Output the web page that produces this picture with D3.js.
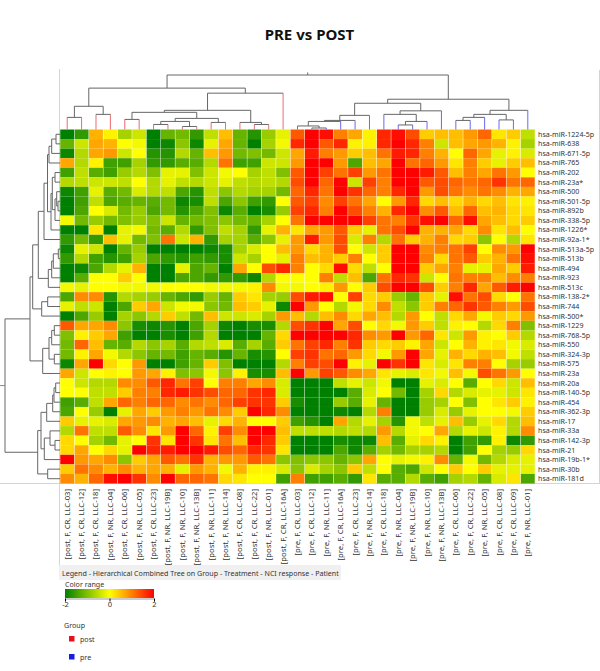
<!DOCTYPE html>
<html>
<head>
<meta charset="utf-8">
<script src="https://cdn.jsdelivr.net/npm/d3@7"></script>
<style>
  html, body { margin: 0; padding: 0; background: #fff; }
  svg { display: block; }
  text { font-family: "Noto Sans", sans-serif; fill: #333; }
</style>
</head>
<body>
<div id="viz"></div>
<script>
var mirnas = ["hsa-miR-1224-5p","hsa-miR-638","hsa-miR-671-5p","hsa-miR-765","hsa-miR-202","hsa-miR-23a*","hsa-miR-500","hsa-miR-501-5p","hsa-miR-892b","hsa-miR-338-5p","hsa-miR-1226*","hsa-miR-92a-1*","hsa-miR-513a-5p","hsa-miR-513b","hsa-miR-494","hsa-miR-923","hsa-miR-513c","hsa-miR-138-2*","hsa-miR-744","hsa-miR-500*","hsa-miR-1229","hsa-miR-768-5p","hsa-miR-550","hsa-miR-324-3p","hsa-miR-575","hsa-miR-23a","hsa-miR-20a","hsa-miR-140-5p","hsa-miR-454","hsa-miR-362-3p","hsa-miR-17","hsa-miR-33a","hsa-miR-142-3p","hsa-miR-21","hsa-miR-19b-1*","hsa-miR-30b","hsa-miR-181d"];

var samples = ["[post, F, CR, LLC-03]","[post, F, CR, LLC-12]","[post, F, CR, LLC-18]","[post, F, NR, LLC-04]","[post, F, CR, LLC-06]","[post, F, NR, LLC-05]","[post, F, CR, LLC-23]","[post, F, NR, LLC-19B]","[post, F, NR, LLC-10]","[post, F, NR, LLC-13B]","[post, F, NR, LLC-11]","[post, F, NR, LLC-14]","[post, F, CR, LLC-08]","[post, F, CR, LLC-22]","[post, F, NR, LLC-01]","[post, F, CR, LLC-16A]","[pre, F, CR, LLC-03]","[pre, F, CR, LLC-12]","[pre, F, NR, LLC-11]","[pre, F, CR, LLC-16A]","[pre, F, CR, LLC-23]","[pre, F, NR, LLC-14]","[pre, F, CR, LLC-18]","[pre, F, NR, LLC-04]","[pre, F, NR, LLC-19B]","[pre, F, NR, LLC-10]","[pre, F, NR, LLC-13B]","[pre, F, CR, LLC-06]","[pre, F, CR, LLC-22]","[pre, F, NR, LLC-05]","[pre, F, CR, LLC-08]","[pre, F, CR, LLC-09]","[pre, F, NR, LLC-01]"];

// one row per miRNA, log ratios
var postValues = [
[-2,-1.6,.6,.1,-.7,-.4,-2,-1.2,-1.1,-1.6,-.5,.5,-1.2,-1.7,-.8,-.2],
[-1.2,-.4,.7,.6,0,-.1,-2,-1.9,-.9,-1.9,-.2,.7,-1.2,-2,-.7,-.1],
[-1.9,-.6,.7,.8,-.4,0,-1.7,-1.7,-.6,-1.2,.5,.8,-1.1,-1,-1.1,-.4],
[.7,-.6,.1,-1.5,-1.5,-.7,-1.6,-1.6,-1.3,-1.3,-.6,1.1,-1.5,-1.5,-.4,-.4],
[-1.5,-.5,-1.3,-1.5,-.8,-.6,-1,-.2,-.2,-1,-.4,-.1,0,-.7,-.5,-1],
[-.6,-.5,-.4,-.4,-.5,0,-.6,-.2,-.5,-.6,-.4,-.2,-.5,-.6,-.5,-.6],
[-1.9,-1.5,-.2,-1.3,-1.1,-.3,-.6,-.5,-1.4,-1.7,-.5,-.9,-.6,-.7,-.7,-1.1],
[-2,-1.5,-.5,-1.4,-1.3,-1.2,-1.3,-1.1,-1.9,-1.8,-.5,-1.4,-.9,-1.5,-1.6,0],
[-2,-1.4,0,-.3,-1.1,-.8,-1.4,-1.1,-1.7,-1.4,-1,-1.9,-1.3,-2,-1.8,-.8],
[-.1,-1.1,-.8,-1.1,-1,-.8,-1,-.4,-1.2,-1.1,-1,-.9,-1.1,-1.2,-.7,0],
[-2,-2,.2,-2,-.2,-.1,-1.1,-1.3,-.6,-1.6,-1,-.5,-.7,-1.6,-.2,.6],
[-1.6,-1.1,-1.6,.5,-.2,-1.1,-1,1.1,-.4,.6,-1.6,-.7,-.7,-1.3,-.9,-.2],
[-1.9,-.2,-.4,-2,-1.2,-.8,-2,-2,-2,-2,-1.9,-1.8,-.7,-.3,0,.5],
[-1.6,-.6,-1.5,-1.7,-1.5,-.7,-1.4,-1.6,-1.7,-1.5,-1.6,-1.8,-.4,-.7,0,-.2],
[-2,-1.9,-1.4,-.6,-.2,.6,-2,-2,-.2,-1.4,-1.2,-2,.7,0,1.4,1.7],
[-2,-1.3,0,0,.4,0,-2,-2,-1.4,-1.4,-1.6,-1.6,-1.6,-1.9,-.6,0],
[-.1,-.2,0,0,-.1,-.1,-.1,0,0,0,-.1,-.1,-.1,.1,.9,-.1],
[-1.4,.9,.9,-1.7,-.6,-.7,-.8,-1.2,-1.4,-1.6,-.8,-1.2,.4,.2,-.7,-.8],
[-.2,-.5,-.4,-2,-1.4,.4,.7,-.4,-.1,-.1,-.9,-1.1,.5,.4,-.2,-1.9],
[-2,-1.4,-.8,-2,-.7,-.9,-.6,.4,-.5,-1.1,.5,-.4,-.4,-.3,-.7,.8],
[1.3,.7,.7,.9,-.9,-1.8,-1.9,-1.7,-2,-1.4,-.7,-1.9,-2,-1.8,-1.8,-.6],
[-1,.1,.4,.7,-1.5,-2,-2,-1.8,-2,-1.5,-.6,-2,-2,-2,-1.2,.3],
[-1.1,1.2,.5,-1.2,-1.3,-.6,-.9,-.7,-1.3,-.6,-.5,-.3,-1.3,-.7,-1.3,.4],
[-1.1,.1,.7,-.1,-.6,-.9,-1.2,-1.1,-1.5,-1.2,-1.3,-1.7,-1.2,-1.8,-1.7,0],
[-1.9,.7,2,.3,0,.8,-2,-2,-1.5,-1.2,.4,-1,-2,-2,-2,-.6],
[.7,-.4,0,.1,0,.8,.7,.1,-1,-.9,-.1,-.9,.1,-1.8,-1.8,.5],
[0,-.4,-.6,-.6,.9,.9,1.3,1.7,1.1,1.5,0,1,1,.7,.9,-.3],
[0,0,-.5,-.5,.4,1,1,1.7,1.8,1.6,1.4,1.2,1.2,1.6,1.7,-.3],
[-1.5,-1.3,-.5,.7,1.2,1,1.2,1.2,.9,1.1,.9,1.2,1.5,1.6,1.6,.4],
[-1.4,0,-.8,-2,-.2,.7,.4,.8,1,.8,1.1,.9,.4,2,1.7,.9],
[.4,-.2,-.2,-.3,.7,.8,.9,.6,.7,.5,-.2,.3,.6,0,0,.4],
[-.6,1.1,-.5,-.5,1.3,.9,.2,.8,2,1.2,.1,1.5,.9,2,2,.5],
[.3,0,-.7,-1.1,-.2,0,1.6,.2,2,1.6,.2,1.1,.5,2,1.7,.4],
[.3,.7,0,.3,-.2,2,1.7,1.8,2,2,1.8,1.4,1.2,1.7,1.6,.2],
[2,.8,.7,.9,-.9,.4,.7,1.3,1.1,1.6,.6,.8,.8,1.3,1.1,-.9],
[.4,1.1,.9,.6,.9,.6,.7,.6,-.2,.8,.6,-.1,.6,.1,.1,-.3],
[.9,.6,1.2,1.9,2,1.6,.9,2,1.2,1.2,1.1,.3,.2,0,0,-1.5]
];

var preValues = [
[1.3,2,1.9,1,.7,.1,1.7,1.9,1.4,.4,.5,.5,.8,1.2,.2,.4,-.5],
[1.7,2,1.3,1.7,.1,.1,1.7,2,1.7,1,-.4,.5,.7,.8,.6,.1,-.7],
[.7,1.8,1,.8,.4,.5,1.1,1.8,1.7,1,.6,0,1.2,.7,-.2,.1,-.3],
[.8,2,2,.8,-1.4,.5,.7,2,1.1,1.2,.8,.2,1,.4,-.2,.4,.5],
[1.3,2,1.5,1.1,1.5,.8,1.1,2,2,1.8,1.3,.5,1,.7,1.1,.8,0],
[1.4,2,1.2,2,-.4,1.5,1,2,2,1.3,1.4,1.2,1.1,1.2,1.6,1.1,1.2],
[1.2,1.7,1.1,2,1.6,1.2,1,1.7,2,.8,1.4,1.1,.9,1.1,.9,.6,.7],
[1.3,1.5,.9,1.5,1.1,.7,0,.8,1.7,.3,.5,.3,.6,.3,.5,.2,.1],
[1.5,1.7,1,2,1.4,1,.6,1.7,2,.9,1.3,.5,1.2,.5,.6,.3,.2],
[1.1,2,2,2,2,1.5,1.1,1,1.6,1.9,2,1.2,1.9,.7,.5,.3,.4],
[.2,.7,.8,1.3,.4,-.2,1.1,1.4,2,.6,.6,.7,.3,.9,.2,.5,0],
[.8,1.8,.8,1.4,-.3,1,-.6,1.1,.4,.6,1,.3,.4,-.9,0,-.6,.2],
[.8,.3,.6,1.4,0,-.4,.4,2,2,.9,1,1.1,1.5,0,.9,.8,2],
[1,.5,.6,.4,1,0,.4,2,2,1,.3,1.1,1.3,.4,.6,1.1,1.9],
[1,0,.3,1.9,.3,-.5,0,2,2,.4,.7,1,-.2,-.2,.7,.4,1.8],
[0,0,1,-.5,.5,-1.4,1.1,1.7,1.6,-.4,0,1.1,1,1,.5,.9,1],
[-.1,0,.1,.8,0,.4,1.4,2,2,1.4,.4,1,1.7,.7,1.3,1.8,2],
[1.4,1.8,1.9,0,1.5,.3,.4,-.8,-1.2,.4,-.2,1.9,1.1,1.4,.3,0,1.1],
[2,.8,0,-.6,-.1,.3,.9,-.5,-.9,.4,1,1.2,1.6,1.3,1,.8,1.4],
[.5,-.6,.5,.9,.3,.7,.5,-.6,.8,0,-.5,.3,.7,-.1,.4,.3,.8],
[1.4,1.6,2,.7,1.4,0,.3,-.1,.8,.4,-.5,.1,0,-.6,.3,1,-1],
[2,2,2,2,1.7,.9,.8,2,.8,1.2,.2,-.4,.8,.1,0,.4,-.6],
[1.1,1.5,1.7,1,1.6,.4,.3,.4,.1,.7,-.4,0,.6,.1,.2,-.1,-.3],
[1.5,1.6,1.1,1.2,.8,.3,-.1,.8,2,.7,-.2,.6,.3,.6,.5,-.1,-.5],
[1,1.5,1.4,2,.1,-.2,2,1.6,2,.2,-.3,.2,1,1,0,-.7,-.8],
[2,.8,1.5,1.3,.9,.7,.2,-.2,-.3,.2,-.1,.5,-.1,1.4,1.1,.8,0],
[-2,-2,-2,-.5,-.2,-.4,-.1,-2,-2,-.2,-.3,0,-1.3,0,.3,-.4,.5],
[-2,-2,-2,-2,-1.3,-.3,0,-1.1,-2,-.7,.3,-.6,-.3,-.2,-.2,-.4,.2],
[-1.8,-2,-2,-.8,-1.3,-.2,-1.2,-2,-2,-.8,-.7,0,-1,0,.2,.4,.1],
[-2,-2,-2,-1.9,-2,-.6,1,-2,-2,-.8,-.3,-.8,-.2,0,0,-.1,.4],
[-1.5,-1.7,-2,.7,-.6,-.2,-.7,-1.7,-.1,-.5,-.2,.5,-.8,-.2,.3,-.6,.5],
[-.5,-.5,-.5,-.6,-.5,-.6,.8,-.6,-.1,0,.7,-.6,-.2,-.4,.1,-.6,.9],
[-2,-2,-2,-1.8,-1.9,-1.9,.5,-1.3,-.2,.3,.1,-2,-1.5,-1.6,.1,-1.9,-1.6],
[-2,-2,-2,-1.4,-1.9,-1.3,-.7,-1.1,-.7,-.7,-.6,-2,-1.5,0,-.7,-.8,.3],
[-1,-.9,-.9,-1.2,-.9,.7,0,-.2,-.1,.1,.9,-1.2,-.1,-1.1,-.6,-.3,-.2],
[-.9,-.3,-.7,-.9,.4,-.5,0,-1.3,-1.4,-.4,0,.4,0,.4,-.2,-.2,-.2],
[1,-1.5,-1.5,-1.3,-1.6,.2,-1.3,-1.3,-.6,-1.3,-1.5,-.7,-.6,-1.2,-.3,.2,-1.4]
];

// trees: [merge height, child, child], a number is a leaf index
var postTree = [41,
  [23, [12,0,1], [15,2,3]],
  [36,
    [19,
      [17, [10,4,5], [11, [8,[5,6,7],[3,8,9]], [7,10,11]]],
      [7,12,[5,13,14]]],
    15]];

var preTree = [30,
  [26,
    [14, [9,[8,[3.5,16,[1.5,17,18]],19],20], 21],
    [18.5, [15,22,[8,[4.5,23,24],25]], 26]],
  [19, [15,[12,[9,27,28],29],[9.5,30,31]], 32]];

var colTree = [54, postTree, preTree];

var rowTree = [55,
  [30,
    [27.3,
      [21.7,
        [16,
          [12.5,
            [11,[8.3,[4,0,1],2],3],
            [9,[7.7,[5,4,5],[5,[3.3,6,[2,7,8]],9]],10]],
          11],
        [11.7,[8.3,[6.7,[1.7,12,13],14],15],16]],
      [18.3,[12.3,17,18],19]],
    [17.3,[11,[8.3,[5.7,20,21],22],[5.7,23,24]],25]],
  [22.3,
    [19,
      [13.3,[7.3,[6,[4.3,26,27],28],29],30],
      [15.7,[10,31,[5,32,33]],34]],
    [12.3,35,36]]];

var rangeTicks = [-2, 0, 2];
var groups = ["post", "pre"];
var groupColors = ["#e8101c", "#1a1ae0"];

var width = 600, height = 671;
var values = mirnas.map(function(d, i) { return postValues[i].concat(preValues[i]); });

var x = d3.scaleBand().domain(d3.range(samples.length)).range([60, 535]);
var y = d3.scaleBand().domain(d3.range(mirnas.length)).range([129.5, 483.5]);
var color = d3.scaleLinear().domain([-2, 0, 2]).range(["#008000", "#ffff00", "#ff0000"]).clamp(true);
var topH = d3.scaleLinear().domain([0, 54]).range([129.5, 75]);
var leftH = d3.scaleLinear().domain([0, 60]).range([60, 0]);

var svg = d3.select("#viz").append("svg").attr("width", width).attr("height", height);

// title
svg.append("text")
  .attr("x", 309.5).attr("y", 40)
  .attr("text-anchor", "middle")
  .style("font-size", "15px").style("font-weight", "bold").style("fill", "#111")
  .text("PRE vs POST");

// frame lines
var frame = svg.append("g").attr("stroke", "#d4d4d4").attr("fill", "none");
frame.append("path").attr("d", "M59.5,69V565");
frame.append("path").attr("d", "M0,483.5H600");
frame.append("path").attr("d", "M599.5,70V484");

// heat map
var row = svg.append("g").selectAll("g").data(values).enter().append("g");
row.selectAll("rect")
  .data(function(d, i) { return d.map(function(v, j) { return {v: v, i: i, j: j}; }); })
  .enter().append("rect")
  .attr("x", function(d) { return x(d.j) + .25; })
  .attr("y", function(d) { return y(d.i); })
  .attr("width", x.bandwidth() - .5)
  .attr("height", y.bandwidth())
  .attr("fill", function(d) { return color(d.v); });

// walks a tree and collects the segments, returns the centre of the node
function walk(node, pos, segs, leafColor) {
  if (typeof node === "number") return {c: pos(node), h: 0, leaf: node};
  var a = walk(node[1], pos, segs, leafColor), b = walk(node[2], pos, segs, leafColor);
  [a, b].forEach(function(k) {
    segs.push({c0: k.c, c1: k.c, h0: k.h, h1: node[0], stroke: k.h === 0 ? leafColor(k.leaf) : "#666"});
  });
  segs.push({c0: a.c, c1: b.c, h0: node[0], h1: node[0], stroke: "#666"});
  return {c: (a.c + b.c) / 2, h: node[0]};
}

var colSegs = [], rowSegs = [];
var colRoot = walk(colTree, function(i) { return x(i) + x.bandwidth() / 2; }, colSegs, function(i) {
  return samples[i].indexOf("[post") === 0 ? "#ee6a72" : "#6a6aee";
});
var rowRoot = walk(rowTree, function(i) { return y(i) + y.bandwidth() / 2; }, rowSegs, function() { return "#666"; });
colSegs.push({c0: colRoot.c, c1: colRoot.c, h0: colRoot.h, h1: 56.5, stroke: "#666"});
rowSegs.push({c0: rowRoot.c, c1: rowRoot.c, h0: rowRoot.h, h1: 60, stroke: "#888"});

svg.append("g").selectAll("line").data(colSegs).enter().append("line")
  .attr("x1", function(d) { return d.c0; }).attr("x2", function(d) { return d.c1; })
  .attr("y1", function(d) { return topH(d.h0); }).attr("y2", function(d) { return topH(d.h1); })
  .attr("stroke", function(d) { return d.stroke; });

svg.append("g").selectAll("line").data(rowSegs).enter().append("line")
  .attr("y1", function(d) { return d.c0; }).attr("y2", function(d) { return d.c1; })
  .attr("x1", function(d) { return leftH(d.h0); }).attr("x2", function(d) { return leftH(d.h1); })
  .attr("stroke", function(d) { return d.stroke; });

// labels
svg.append("g").selectAll("text").data(mirnas).enter().append("text")
  .attr("x", 538)
  .attr("y", function(d, i) { return y(i) + y.bandwidth() / 2 + 2.5; })
  .style("font-size", "7.1px")
  .text(function(d) { return d; });

svg.append("g").selectAll("text").data(samples).enter().append("text")
  .attr("transform", function(d, i) { return "translate(" + (x(i) + x.bandwidth() / 2 + 2.5) + ",489) rotate(-90)"; })
  .attr("text-anchor", "end")
  .style("font-size", "7.7px")
  .text(function(d) { return d; });

// legend
var legend = svg.append("g");
legend.append("rect").attr("x", 59).attr("y", 565).attr("width", 282).attr("height", 15).attr("fill", "#f0f0f0");
legend.append("text").attr("x", 62).attr("y", 575.5).style("font-size", "7.1px")
  .text("Legend - Hierarchical Combined Tree on Group - Treatment - NCI response - Patient");
legend.append("text").attr("x", 65).attr("y", 587).style("font-size", "7.1px").text("Color range");

var grad = svg.append("defs").append("linearGradient").attr("id", "range");
[-2, -1, 0, 1, 2].forEach(function(v) {
  grad.append("stop").attr("offset", ((v + 2) / 4 * 100) + "%").attr("stop-color", color(v));
});
var barScale = d3.scaleLinear().domain([-2, 2]).range([65, 154]);
legend.append("rect").attr("x", barScale(-2)).attr("y", 589).attr("width", barScale(2) - barScale(-2)).attr("height", 9)
  .attr("fill", "url(#range)");
var barAxis = legend.append("g").attr("transform", "translate(0,598.5)")
  .call(d3.axisBottom(barScale).tickValues(rangeTicks).tickSize(3).tickPadding(0).tickFormat(function(d) { return String(d); }));
barAxis.select(".domain").attr("stroke", "#999");
barAxis.selectAll("text").style("font-size", "7.5px").style("font-family", '"Noto Sans", sans-serif');

legend.append("text").attr("x", 64).attr("y", 628).style("font-size", "7.1px").text("Group");
var groupY = d3.scalePoint().domain(groups).range([639, 657]);
groups.forEach(function(g, i) {
  legend.append("rect").attr("x", 69).attr("y", groupY(g) - 3).attr("width", 5.5).attr("height", 5.5).attr("fill", groupColors[i]);
  legend.append("text").attr("x", 80).attr("y", groupY(g) + 2.5).style("font-size", "7.1px").text(g);
});
</script>
</body>
</html>
